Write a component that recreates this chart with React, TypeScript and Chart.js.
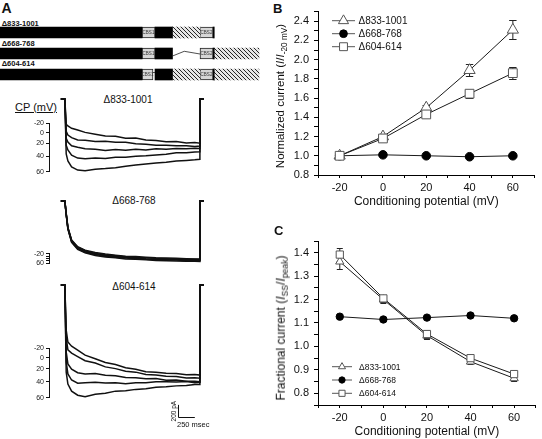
import React, { useEffect, useRef } from "react";
import { Chart, registerables } from "chart.js";
import { drawPoint } from "chart.js/helpers";

Chart.register(...registerables);
const FONT = "'Liberation Sans', Arial, Helvetica, sans-serif";
Chart.defaults.font.family = FONT;
Chart.defaults.color = "#111";

// ---------------- data: panels B and C ----------------
const CP_MV = [-20, 0, 20, 40, 60];
const SERIES_NAMES = ["Δ833-1001", "Δ668-768", "Δ604-614"];

const B_833 = [1.0, 1.2, 1.5, 1.89, 2.31];
const B_833_ERR = [0.01, 0.02, 0.03, 0.065, 0.1];
const B_668 = [1.0, 1.01, 1.0, 0.99, 1.0];
const B_668_ERR = [0, 0.008, 0.008, 0.008, 0.008];
const B_604 = [1.0, 1.18, 1.43, 1.646, 1.86];
const B_604_ERR = [0.01, 0.02, 0.02, 0.04, 0.06];

const C_833 = [1.362, 1.2, 1.046, 0.935, 0.864];
const C_833_ERR = [0.03, 0.015, 0.015, 0.012, 0.012];
const C_668 = [1.127, 1.115, 1.123, 1.132, 1.12];
const C_668_ERR = [0.005, 0.005, 0.005, 0.005, 0.005];
const C_604 = [1.392, 1.205, 1.053, 0.95, 0.882];
const C_604_ERR = [0.028, 0.015, 0.015, 0.01, 0.01];

// ---------------- data: panel A schematic (relative positions) ----------------
const SCHEME_ROWS = ["Δ833-1001", "Δ668-768", "Δ604-614"];
const SEG_BLACK_N = [[0, 568], [0, 568], [0, 568]];
const SEG_CBS1 = [[568, 620], [568, 620], [568, 612]];
const SEG_BLACK_MID = [[620, 690], [620, 690], [620, 690]];
const SEG_HATCH_MID = [[690, 800], null, [690, 800]];
const SEG_CBS2 = [[800, 852], [800, 852], [800, 852]];
const SEG_BLACK_C = [[852, 857], [852, 857], [852, 857]];
const SEG_HATCH_C = [null, [857, 1036], [857, 1036]];

// ---------------- data: panel A current traces (ms, pA) ----------------
const TRACE_MS = [0, 20, 45, 100, 190, 300, 450, 600, 750, 900, 1050, 1200, 1350, 1500, 1650, 1800, 1925, 2000];
const PRE_MS = 60;
const POST_MS = 60;
const CP_LABELS = ["-20", "0", "20", "40", "60"];
const CP_LABELS_SHORT = ["-20", "", "", "", "60"];

const A1_M20 = [0, -430, -460, -500, -530, -570, -600, -630, -635, -670, -665, -700, -710, -730, -725, -750, -745, -755];
const A1_0 = [0, -550, -615, -660, -700, -705, -725, -720, -740, -740, -765, -775, -790, -790, -800, -800, -810, -805];
const A1_20 = [0, -670, -735, -800, -825, -850, -860, -880, -865, -875, -860, -870, -850, -860, -845, -850, -840, -845];
const A1_40 = [0, -790, -870, -960, -1010, -1020, -1010, -1015, -995, -995, -980, -970, -955, -945, -920, -920, -905, -900];
const A1_60 = [0, -940, -1060, -1160, -1215, -1225, -1200, -1190, -1175, -1150, -1130, -1110, -1095, -1080, -1060, -1050, -1040, -1030];
const A1_CP_TICKS = [-416, -576, -758, -980, -1243];

const A2_M20 = [0, -210, -450, -665, -780, -840, -880, -905, -925, -945, -950, -960, -970, -975, -980, -985, -990, -985];
const A2_0 = [0, -215, -455, -675, -790, -850, -895, -920, -935, -955, -965, -970, -980, -985, -990, -995, -995, -1000];
const A2_20 = [0, -222, -462, -684, -805, -865, -905, -930, -950, -965, -975, -985, -990, -1000, -1000, -1010, -1005, -1010];
const A2_40 = [0, -230, -470, -695, -815, -875, -915, -945, -960, -975, -985, -995, -1000, -1010, -1010, -1020, -1020, -1020];
const A2_60 = [0, -235, -480, -705, -825, -885, -930, -955, -970, -990, -995, -1005, -1015, -1020, -1025, -1030, -1030, -1035];
const A2_CP_TICKS = [-905, -945, -985, -1020, -1060];

const A3_M20 = [0, -770, -975, -1045, -1115, -1200, -1260, -1325, -1360, -1415, -1440, -1485, -1490, -1510, -1515, -1535, -1530, -1540];
const A3_0 = [0, -905, -1110, -1165, -1225, -1295, -1335, -1400, -1430, -1475, -1490, -1530, -1540, -1560, -1565, -1590, -1585, -1595];
const A3_20 = [0, -1145, -1350, -1440, -1500, -1520, -1515, -1545, -1550, -1580, -1585, -1605, -1600, -1630, -1625, -1645, -1645, -1655];
const A3_40 = [0, -1315, -1520, -1625, -1680, -1670, -1665, -1675, -1670, -1690, -1670, -1670, -1655, -1655, -1660, -1650, -1670, -1665];
const A3_60 = [0, -1490, -1695, -1815, -1885, -1910, -1870, -1850, -1815, -1810, -1785, -1775, -1750, -1740, -1725, -1720, -1700, -1700];
const A3_CP_TICKS = [-1083, -1248, -1436, -1654, -1927];

const SCALE_BAR_MS = 250;
const SCALE_BAR_PA = 200;

// ---------------- plugins ----------------
const errorBarPlugin: any = {
  id: "errorBars",
  beforeDatasetsDraw(chart: any, _a: any, opts: any) {
    const { ctx } = chart;
    const xs = chart.scales.x;
    const ys = chart.scales.y;
    const cap = opts.cap ?? 3.5;
    ctx.save();
    ctx.strokeStyle = "#222";
    ctx.lineWidth = 1;
    chart.data.datasets.forEach((ds: any) => {
      if (!ds.errors) return;
      ds.data.forEach((p: any, i: number) => {
        const e = ds.errors[i];
        if (!e) return;
        const x = xs.getPixelForValue(p.x);
        const yT = Math.round(ys.getPixelForValue(p.y + e)) + 0.5;
        const yB = Math.round(ys.getPixelForValue(p.y - e)) + 0.5;
        ctx.beginPath();
        ctx.moveTo(x, yT);
        ctx.lineTo(x, yB);
        ctx.moveTo(x - cap, yT);
        ctx.lineTo(x + cap, yT);
        ctx.moveTo(x - cap, yB);
        ctx.lineTo(x + cap, yB);
        ctx.stroke();
      });
    });
    ctx.restore();
  },
};

const lineLegendPlugin: any = {
  id: "lineLegend",
  afterDraw(chart: any, _a: any, o: any) {
    const { ctx } = chart;
    ctx.save();
    chart.data.datasets.forEach((ds: any, i: number) => {
      const y = o.y + i * o.gap;
      ctx.strokeStyle = o.lineColor;
      ctx.lineWidth = 1;
      ctx.beginPath();
      ctx.moveTo(o.x, y);
      ctx.lineTo(o.x + o.len, y);
      ctx.stroke();
      ctx.fillStyle = ds.pointBackgroundColor;
      ctx.strokeStyle = ds.pointBorderColor;
      ctx.lineWidth = ds.pointBorderWidth;
      drawPoint(
        ctx,
        { pointStyle: ds.pointStyle, radius: ds.pointRadius * o.markerScale, borderWidth: ds.pointBorderWidth, rotation: 0 } as any,
        o.x + o.len / 2,
        y
      );
      ctx.fillStyle = "#111";
      ctx.font = `${o.fontSize}px ${FONT}`;
      ctx.textBaseline = "middle";
      ctx.textAlign = "left";
      ctx.fillText(ds.label, o.x + o.len + o.textGap, y + 0.5);
    });
    ctx.restore();
  },
};

const cpBracketPlugin: any = {
  id: "cpBracket",
  afterDraw(chart: any) {
    const s = chart.scales.cp;
    if (!s) return;
    const vals = s.ticks.map((t: any) => t.value);
    const y1 = s.getPixelForValue(Math.max(...vals));
    const y2 = s.getPixelForValue(Math.min(...vals));
    const x = chart.chartArea.left - 0.5;
    const { ctx } = chart;
    ctx.save();
    ctx.strokeStyle = "#111";
    ctx.lineWidth = 1;
    ctx.beginPath();
    ctx.moveTo(x, y1);
    ctx.lineTo(x, y2);
    ctx.stroke();
    ctx.restore();
  },
};

const scaleBarPlugin: any = {
  id: "scaleBar",
  afterDraw(chart: any, _a: any, o: any) {
    if (!o || !o.enabled) return;
    const { ctx } = chart;
    const xs = chart.scales.x;
    const ys = chart.scales.y;
    const x0 = Math.round(xs.getPixelForValue(o.t)) + 0.5;
    const x1 = xs.getPixelForValue(o.t + o.dt);
    const y0 = Math.round(ys.getPixelForValue(o.i)) + 0.5;
    const y1 = ys.getPixelForValue(o.i + o.di);
    ctx.save();
    ctx.strokeStyle = "#111";
    ctx.lineWidth = 1;
    ctx.beginPath();
    ctx.moveTo(x0, y1);
    ctx.lineTo(x0, y0);
    ctx.lineTo(x1, y0);
    ctx.stroke();
    ctx.fillStyle = "#111";
    ctx.font = `7.5px ${FONT}`;
    ctx.textAlign = "left";
    ctx.textBaseline = "alphabetic";
    ctx.fillText(`${o.dt} msec`, x0 - 1.5, y0 + 9);
    ctx.translate(x0 - 3, (y0 + y1) / 2);
    ctx.rotate(-Math.PI / 2);
    ctx.textAlign = "center";
    ctx.font = `6.5px ${FONT}`;
    ctx.fillText(`${o.di} pA`, 0, 0);
    ctx.restore();
  },
};

const schematicPlugin: any = {
  id: "schematic",
  afterDatasetsDraw(chart: any, _a: any, o: any) {
    const { ctx } = chart;
    const xs = chart.scales.x;
    const ys = chart.scales.y;
    ctx.save();
    ctx.fillStyle = "#333";
    ctx.font = `4.5px ${FONT}`;
    ctx.textAlign = "center";
    ctx.textBaseline = "middle";
    chart.data.datasets.forEach((ds: any) => {
      if (!ds.boxLabel) return;
      ds.data.forEach((seg: any, i: number) => {
        if (!seg) return;
        const cx = (xs.getPixelForValue(seg[0]) + xs.getPixelForValue(seg[1])) / 2;
        ctx.fillText(ds.boxLabel, cx, ys.getPixelForValue(i) + 0.5);
      });
    });
    ctx.strokeStyle = "#222";
    ctx.lineWidth = 0.8;
    (o.carets || []).forEach((l: any) => {
      const cy = ys.getPixelForValue(l.row);
      const xa = xs.getPixelForValue(l.from);
      const xb = xs.getPixelForValue(l.to);
      ctx.beginPath();
      ctx.moveTo(xa, cy + 2.5);
      ctx.lineTo((xa + xb) / 2 - 2, cy - 2.2);
      ctx.lineTo(xb, cy + 0.5);
      ctx.stroke();
    });
    (o.notches || []).forEach((l: any) => {
      const cy = ys.getPixelForValue(l.row);
      ctx.beginPath();
      ctx.moveTo(xs.getPixelForValue(l.from), cy - 2);
      ctx.lineTo(xs.getPixelForValue(l.to), cy - 2);
      ctx.stroke();
    });
    ctx.restore();
  },
};

// ---------------- chart factories ----------------
const BASE_OPTS = {
  animation: false,
  responsive: false,
  devicePixelRatio: 1,
  events: [],
};

function seriesDs(label: string, vals: number[], errs: number[], style: string, filled: boolean, r: number, order: number) {
  return {
    label,
    data: CP_MV.map((x, i) => ({ x, y: vals[i] })),
    errors: errs,
    pointStyle: style,
    pointRadius: r,
    pointBackgroundColor: filled ? "#000" : "#fff",
    pointBorderColor: filled ? "#000" : "#555",
    pointBorderWidth: 1,
    borderColor: "#1a1a1a",
    borderWidth: 1,
    fill: false,
    tension: 0,
    order,
  };
}

function xAxis(height: number, titlePadBottom: number) {
  return {
    type: "linear",
    min: -30,
    max: 70,
    afterFit: (s: any) => {
      s.height = height;
    },
    ticks: {
      stepSize: 10,
      autoSkip: false,
      maxRotation: 0,
      font: { size: 11 },
      color: "#111",
      padding: 3,
      callback: (v: any) => (v % 20 === 0 && v >= -20 && v <= 60 ? String(v) : ""),
    },
    grid: { drawOnChartArea: false, tickLength: 3, color: "#000" },
    border: { color: "#000", width: 1 },
    title: {
      display: true,
      text: "Conditioning potential (mV)",
      font: { size: 12 },
      color: "#111",
      padding: { top: 0, bottom: titlePadBottom },
    },
  };
}

function yAxis(min: number, max: number, step: number, labelEvery: number) {
  return {
    type: "linear",
    min,
    max,
    afterFit: (s: any) => {
      s.width = 47;
    },
    ticks: {
      stepSize: step,
      autoSkip: false,
      font: { size: 11 },
      color: "#111",
      padding: 5,
      callback: (v: any) => {
        const k = Math.round(v * 100);
        return k % labelEvery === 0 ? (k / 100).toFixed(1) : "";
      },
    },
    grid: { drawOnChartArea: false, tickLength: 4, color: "#000" },
    border: { color: "#000", width: 1 },
  };
}

function makeB(): any {
  return {
    type: "line",
    data: {
      datasets: [
        seriesDs(SERIES_NAMES[0], B_833, B_833_ERR, "triangle", false, 6.5, 1),
        seriesDs(SERIES_NAMES[1], B_668, B_668_ERR, "circle", true, 4.3, 2),
        seriesDs(SERIES_NAMES[2], B_604, B_604_ERR, "rect", false, 6.2, 0),
      ],
    },
    options: {
      ...BASE_OPTS,
      layout: { padding: { top: 11, right: 2, left: 0, bottom: 0 } },
      scales: { x: xAxis(45, 10.8), y: yAxis(0.8, 2.5, 0.1, 20) },
      plugins: {
        legend: { display: false },
        tooltip: { enabled: false },
        errorBars: { cap: 3.7 },
        lineLegend: { x: 61, y: 20.7, gap: 13, len: 23, textGap: 3.5, fontSize: 10, markerScale: 0.9, lineColor: "#555" },
      },
    },
    plugins: [errorBarPlugin, lineLegendPlugin],
  };
}

function makeC(): any {
  return {
    type: "line",
    data: {
      datasets: [
        seriesDs(SERIES_NAMES[0], C_833, C_833_ERR, "triangle", false, 4.8, 1),
        seriesDs(SERIES_NAMES[1], C_668, C_668_ERR, "circle", true, 3.7, 2),
        seriesDs(SERIES_NAMES[2], C_604, C_604_ERR, "rect", false, 5.1, 0),
      ],
    },
    options: {
      ...BASE_OPTS,
      layout: { padding: { top: 21, right: 2, left: 0, bottom: 0 } },
      scales: { x: xAxis(34, 0), y: yAxis(0.75, 1.45, 0.05, 10) },
      plugins: {
        legend: { display: false },
        tooltip: { enabled: false },
        errorBars: { cap: 3 },
        lineLegend: { x: 61, y: 146.7, gap: 13.3, len: 20, textGap: 7, fontSize: 8.5, markerScale: 0.85, lineColor: "#555" },
      },
    },
    plugins: [errorBarPlugin, lineLegendPlugin],
  };
}

function makeHatch(): CanvasPattern | string {
  const c = document.createElement("canvas");
  c.width = 4;
  c.height = 4;
  const g = c.getContext("2d");
  if (!g) return "#999";
  g.fillStyle = "#e6e6e6";
  g.fillRect(0, 0, 4, 4);
  g.fillStyle = "#262626";
  for (let i = 0; i < 4; i++) g.fillRect(i, i, 1, 1);
  return g.createPattern(c, "repeat") || "#999";
}

function makeScheme(): any {
  const hatch = makeHatch();
  const bar = (data: any, bg: any, extra: any = {}) => ({
    data,
    backgroundColor: bg,
    borderWidth: 0,
    borderSkipped: false,
    grouped: false,
    barThickness: 11,
    ...extra,
  });
  const box = (data: any, label: string) =>
    bar(data, "#d6d6d6", { borderWidth: 1, borderColor: "#222", boxLabel: label });
  return {
    type: "bar",
    data: {
      labels: SCHEME_ROWS,
      datasets: [
        bar(SEG_BLACK_N, "#000"),
        box(SEG_CBS1, "CBS1"),
        bar(SEG_BLACK_MID, "#000"),
        bar(SEG_HATCH_MID, hatch),
        box(SEG_CBS2, "CBS2"),
        bar(SEG_BLACK_C, "#000"),
        bar(SEG_HATCH_C, hatch),
      ],
    },
    options: {
      ...BASE_OPTS,
      indexAxis: "y",
      layout: { padding: 0 },
      scales: {
        x: { type: "linear", min: 0, max: 1080, display: false },
        y: { type: "category", display: false },
      },
      plugins: {
        legend: { display: false },
        tooltip: { enabled: false },
        schematic: {
          carets: [{ row: 1, from: 690, to: 800 }],
          notches: [{ row: 2, from: 612, to: 620 }],
        },
      },
    },
    plugins: [schematicPlugin],
  };
}

function makeTrace(traces: number[][], cpTicks: number[], cpLabels: string[], yMin: number, yMax: number, scaleBar: any): any {
  const last = TRACE_MS[TRACE_MS.length - 1];
  return {
    type: "line",
    data: {
      datasets: traces.map((vals) => ({
        data: [
          { x: -PRE_MS, y: 0 },
          ...TRACE_MS.map((t, i) => ({ x: t, y: vals[i] })),
          { x: last, y: 0 },
          { x: last + POST_MS, y: 0 },
        ],
        borderColor: "#111",
        borderWidth: 1.5,
        pointRadius: 0,
        tension: 0,
        fill: false,
      })),
    },
    options: {
      ...BASE_OPTS,
      layout: { padding: { top: 0, left: 0, bottom: 0, right: 1.6 } },
      scales: {
        x: { type: "linear", min: -220, max: 2200, display: false },
        y: { type: "linear", min: yMin, max: yMax, display: false },
        cp: {
          type: "linear",
          position: "left",
          min: yMin,
          max: yMax,
          afterBuildTicks: (s: any) => {
            s.ticks = cpTicks.map((v) => ({ value: v }));
          },
          afterFit: (s: any) => {
            s.width = 50;
            s.paddingTop = 0;
            s.paddingBottom = 0;
          },
          ticks: {
            autoSkip: false,
            font: { size: 7 },
            color: "#222",
            padding: 2,
            callback: (_v: any, i: number) => cpLabels[i],
          },
          grid: { drawOnChartArea: false, tickLength: 4, color: "#111" },
          border: { display: false },
        },
      },
      plugins: {
        legend: { display: false },
        tooltip: { enabled: false },
        scaleBar: scaleBar || { enabled: false },
      },
    },
    plugins: [cpBracketPlugin, scaleBarPlugin],
  };
}

// ---------------- components ----------------
function ChartBox({ make, left, top, width, height }: { make: () => any; left: number; top: number; width: number; height: number }) {
  const ref = useRef<HTMLCanvasElement>(null);
  useEffect(() => {
    if (!ref.current) return;
    const chart = new Chart(ref.current, make());
    return () => chart.destroy();
  }, []);
  return (
    <canvas
      ref={ref}
      width={width}
      height={height}
      style={{ position: "absolute", left, top, width, height }}
    />
  );
}

function Txt({
  x,
  base,
  size,
  bold,
  center,
  underline,
  children,
}: {
  x: number;
  base: number;
  size: number;
  bold?: boolean;
  center?: boolean;
  underline?: boolean;
  children: React.ReactNode;
}) {
  return (
    <div
      style={{
        position: "absolute",
        left: x,
        top: base - 0.8465 * size,
        fontSize: size,
        lineHeight: 1,
        fontWeight: bold ? 700 : 400,
        fontFamily: FONT,
        color: "#111",
        whiteSpace: "nowrap",
        textDecoration: underline ? "underline" : "none",
        transform: center ? "translateX(-50%)" : undefined,
      }}
    >
      {children}
    </div>
  );
}

function VTitle({ cx, cy, size, children }: { cx: number; cy: number; size: number; children: React.ReactNode }) {
  return (
    <div
      style={{
        position: "absolute",
        left: cx,
        top: cy,
        fontSize: size,
        lineHeight: 1.2,
        fontFamily: FONT,
        color: "#111",
        whiteSpace: "nowrap",
        transform: "translate(-50%, -50%) rotate(-90deg)",
      }}
    >
      {children}
    </div>
  );
}

const subStyle: React.CSSProperties = { fontSize: "0.72em", verticalAlign: "-0.3em", lineHeight: 0 };

export default function App() {
  return (
    <div style={{ position: "absolute", left: 0, top: 0, width: 542, height: 439, background: "#fff", overflow: "hidden" }}>
      {/* Panel A */}
      <Txt x={1.5} base={13.3} size={14} bold>A</Txt>
      <Txt x={1.7} base={26.7} size={7.5} bold>{SCHEME_ROWS[0]}</Txt>
      <Txt x={1.7} base={46.7} size={7.5} bold>{SCHEME_ROWS[1]}</Txt>
      <Txt x={1.7} base={66.7} size={7.5} bold>{SCHEME_ROWS[2]}</Txt>
      <ChartBox make={makeScheme} left={0} top={22} width={270} height={63} />

      <Txt x={15} base={111.5} size={11} underline>CP (mV)</Txt>
      <Txt x={128} base={103.5} size={10} center>{SERIES_NAMES[0]}</Txt>
      <ChartBox
        make={() => makeTrace([A1_M20, A1_0, A1_20, A1_40, A1_60], A1_CP_TICKS, CP_LABELS, -1385, 190, null)}
        left={0}
        top={88}
        width={215}
        height={92}
      />

      <Txt x={134} base={204.5} size={10} center>{SERIES_NAMES[1]}</Txt>
      <ChartBox
        make={() => makeTrace([A2_M20, A2_0, A2_20, A2_40, A2_60], A2_CP_TICKS, CP_LABELS_SHORT, -1145, 190, null)}
        left={0}
        top={190}
        width={215}
        height={78}
      />

      <Txt x={134} base={290} size={10} center>{SERIES_NAMES[2]}</Txt>
      <ChartBox
        make={() =>
          makeTrace([A3_M20, A3_0, A3_20, A3_40, A3_60], A3_CP_TICKS, CP_LABELS, -2480, 155, {
            enabled: true,
            t: 1675,
            i: -2250,
            dt: SCALE_BAR_MS,
            di: SCALE_BAR_PA,
          })
        }
        left={0}
        top={276}
        width={215}
        height={154}
      />

      {/* Panel B */}
      <Txt x={273} base={12.7} size={13} bold>B</Txt>
      <ChartBox make={makeB} left={271} top={0} width={271} height={220} />
      <VTitle cx={281} cy={96} size={11.5}>
        Normalized current (<i>I</i>/<i>I</i>
        <span style={subStyle}>-20 mV</span>)
      </VTitle>

      {/* Panel C */}
      <Txt x={274} base={235} size={13} bold>C</Txt>
      <ChartBox make={makeC} left={271} top={220} width={271} height={219} />
      <VTitle cx={281} cy={328} size={12}>
        Fractional current (<i>I</i>
        <span style={subStyle}>SS</span>/<i>I</i>
        <span style={subStyle}>peak</span>)
      </VTitle>
    </div>
  );
}
